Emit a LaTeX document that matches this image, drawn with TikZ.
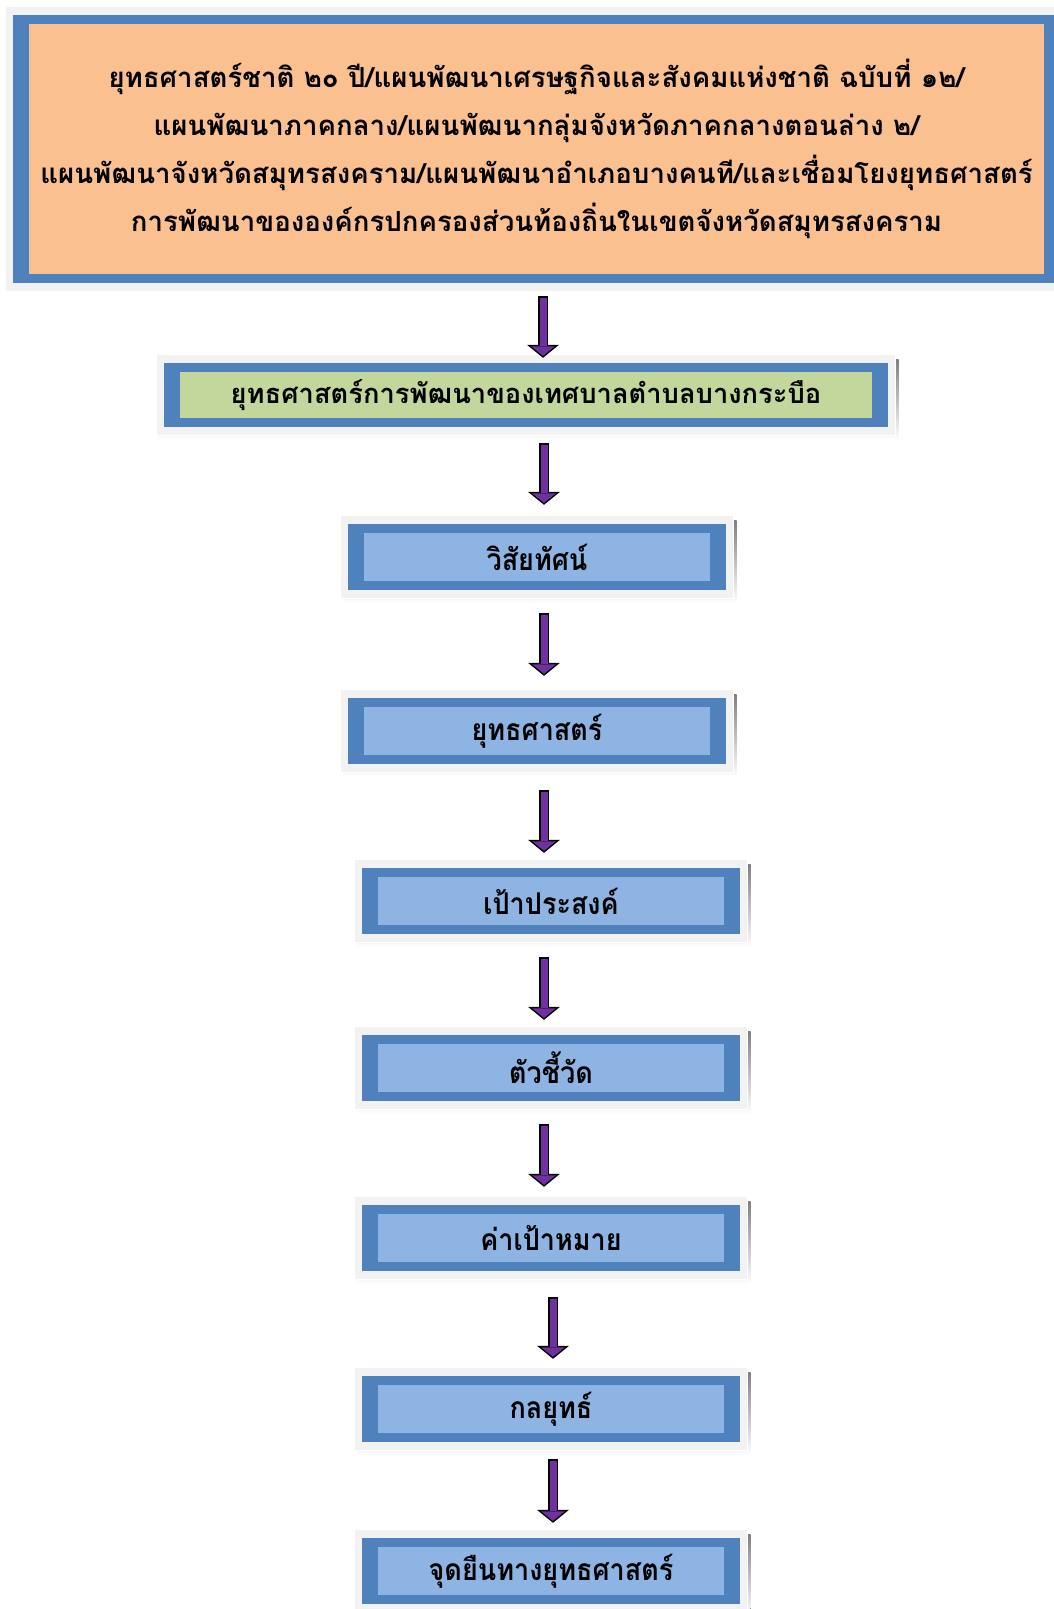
\documentclass[tikz,border=0pt]{standalone}
\usepackage{fontspec}
\newfontfamily\thaifont[Script=Thai]{Loma}
\newfontfamily\thainarrow[Script=Thai,FakeStretch=0.9]{Loma}
\usetikzlibrary{arrows.meta}

\definecolor{frameblue}{HTML}{4F81BD}
\definecolor{innerblue}{HTML}{8EB4E3}
\definecolor{peach}{HTML}{FAC090}
\definecolor{olive}{HTML}{C3D69B}
\definecolor{paper}{HTML}{F2F2F2}
\definecolor{shade}{HTML}{A0AABA}
\definecolor{violet}{HTML}{7030A0}

\pgfdeclarelayer{background}
\pgfsetlayers{background,main}

\tikzset{
  card/.style={fill=innerblue, inner sep=0pt, minimum width=346pt, minimum height=48pt,
    font=\thainarrow\bfseries\fontsize{30}{36}\selectfont},
  flowline/.style={line width=10pt, -{Triangle[width=32pt,length=13pt,line width=0pt]}},
  flowfill/.style={violet, line width=7pt, -{Triangle[width=23.6pt,length=9.6pt,line width=0pt]}}
}

\begin{document}
\begin{tikzpicture}[x=1pt,y=-1pt]

\useasboundingbox (0,0) rectangle (1054,1609);
\clip (0,0) rectangle (1054,1609);

\node[fill=peach, inner sep=0pt, minimum width=1015pt, minimum height=250pt, align=center,
  font=\thaifont\bfseries\fontsize{27.6}{48}\selectfont] (top) at (536.5,149)
  {ยุทธศาสตร์ชาติ ๒๐ ปี/แผนพัฒนาเศรษฐกิจและสังคมแห่งชาติ ฉบับที่ ๑๒/\\
   แผนพัฒนาภาคกลาง/แผนพัฒนากลุ่มจังหวัดภาคกลางตอนล่าง ๒/\\
   แผนพัฒนาจังหวัดสมุทรสงคราม/แผนพัฒนาอำเภอบางคนที/และเชื่อมโยงยุทธศาสตร์\\
   การพัฒนาขององค์กรปกครองส่วนท้องถิ่นในเขตจังหวัดสมุทรสงคราม};

\node[card, fill=olive, minimum width=692pt, minimum height=46pt,
  font=\thaifont\bfseries\fontsize{27.3}{34}\selectfont] (plan) at (526,395)
  {ยุทธศาสตร์การพัฒนาของเทศบาลตำบลบางกระบือ};

\node[card] (vision) at (537,557) {วิสัยทัศน์};
\node[card] (strategy) at (537,731) {ยุทธศาสตร์};
\node[card] (goal) at (551,901) {เป้าประสงค์};
\node[card] (indicator) at (551,1068) {ตัวชี้วัด};
\node[card] (target) at (551,1238) {ค่าเป้าหมาย};
\node[card] (tactic) at (551,1409) {กลยุทธ์};
\node[card] (stance) at (551,1571) {จุดยืนทางยุทธศาสตร์};

% frames behind the boxes
\begin{pgfonlayer}{background}
\foreach \n in {top,plan,vision,strategy,goal,indicator,target,tactic,stance}{
  \fill[shade] ([shift={(-20.5,-12)}]\n.north west) rectangle ([shift={(26.5,22)}]\n.south east);
  \filldraw[paper, draw=white, line width=1pt] ([shift={(-23.5,-17)}]\n.north west) rectangle ([shift={(23.5,17)}]\n.south east);
  \fill[frameblue] ([shift={(-15.5,-9)}]\n.north west) rectangle ([shift={(15.5,9)}]\n.south east);
}
\end{pgfonlayer}

% block arrows
\foreach \a/\b/\dx/\s/\e in {top/plan/6.5/22/14, plan/vision/18/25/28, vision/strategy/7/32/31,
    strategy/goal/7/35/24, goal/indicator/-7/32/24, indicator/target/-7/32/27,
    target/tactic/2/35/26, tactic/stance/2/26/24}{
  \draw[flowline, shorten <=\s pt, shorten >=\e pt] ([xshift=\dx pt]\a.south) -- ([xshift=\dx pt]\a.south |- \b.north);
  \draw[flowfill, shorten <=\s pt+1.5pt, shorten >=\e pt+1.93pt] ([xshift=\dx pt]\a.south) -- ([xshift=\dx pt]\a.south |- \b.north);
}

\end{tikzpicture}
\end{document}
